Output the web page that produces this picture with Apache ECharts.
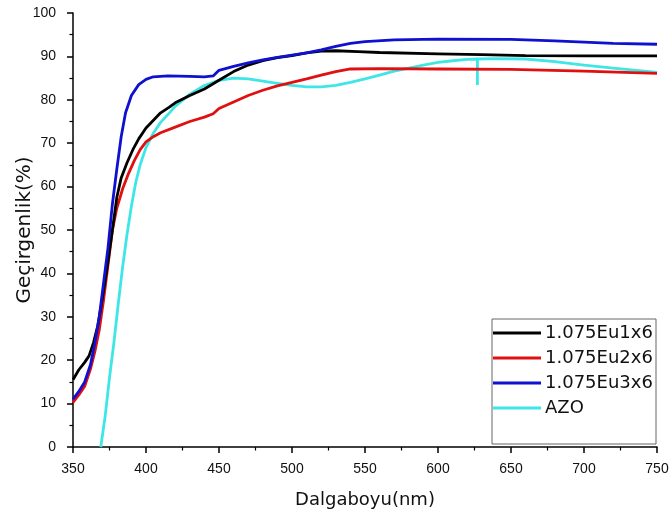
<!DOCTYPE html>
<html>
<head>
<meta charset="utf-8">
<script src="https://cdn.jsdelivr.net/npm/echarts@6/dist/echarts.min.js"></script>
<style>html,body{margin:0;padding:0;background:#fff}#c{width:672px;height:520px}</style>
</head>
<body>
<div id="c"></div>
<script>
const seriesNames = ['1.075Eu1x6', '1.075Eu2x6', '1.075Eu3x6', 'AZO'];
const seriesColors = ['#000000', '#e01010', '#1010d0', '#3ee6e6'];

const eu1X = [350,354,358,361,364,367,370,373,377,380,383,387,391,395,400,410,416,420,430,440,450,460,470,480,490,500,510,520,530,545,560,600,630,660,700,750];
const eu1Y = [15.5,17.8,19.5,21,24,28,34,40.5,50,57.5,62,65.5,68.5,71,73.5,77,78.3,79.3,81,82.5,84.5,86.5,88,89,89.7,90.2,90.8,91.2,91.3,91.1,90.9,90.6,90.4,90.2,90.1,90.1];

const eu2X = [350,354,358,362,365,368,371,374,377,380,384,388,392,396,400,405,410,420,430,440,446,450,460,470,480,490,500,510,520,530,540,560,600,650,700,750];
const eu2Y = [10.3,12,14,18,22,27,34,42,50,55,59.5,63,66,68.5,70.3,71.5,72.4,73.7,75,76,76.8,78,79.5,81,82.2,83.2,84,84.8,85.7,86.5,87.1,87.2,87.1,87,86.6,86.1];

const eu3X = [350,354,358,362,365,368,371,374,377,380,383,386,390,395,400,405,415,430,440,446,450,460,470,480,490,500,510,520,530,540,550,570,600,650,680,700,720,750];
const eu3Y = [11,12.8,15,19,24,30,38,46,56,64,71.5,77,81,83.5,84.7,85.3,85.5,85.4,85.3,85.5,86.8,87.7,88.5,89.2,89.8,90.3,90.8,91.5,92.3,93,93.4,93.8,94,93.9,93.6,93.3,93,92.8];

const azoX = [369,372,375,378,381,384,387,390,393,396,400,405,410,415,420,430,440,450,460,470,480,490,500,510,520,530,540,550,560,570,580,590,600,610,620,627,627,627,640,660,680,700,720,750];
const azoY = [0,7,16,24,33,41.5,49,55.5,61,65,69,72.3,74.8,76.6,78.5,81.3,83.3,84.5,85,84.8,84.3,83.8,83.3,83,83,83.3,84,84.8,85.7,86.6,87.3,88,88.6,89,89.3,89.4,83.4,89.4,89.5,89.4,88.8,88,87.3,86.3];

const xTicks = {min: 350, max: 750, interval: 50};
const yTicks = {min: 0, max: 100, interval: 10};

const xs = [eu1X, eu2X, eu3X, azoX];
const ys = [eu1Y, eu2Y, eu3Y, azoY];

const chart = echarts.init(document.getElementById('c'));
const font = 'Liberation Sans, Arial, sans-serif';
const wide = 'DejaVu Sans, sans-serif';
const axisCommon = {
  axisLine: {show: true, onZero: false, lineStyle: {color: '#000', width: 1.5}},
  axisTick: {show: true, inside: false, length: 6, lineStyle: {color: '#000', width: 1.5}},
  minorTick: {show: true, splitNumber: 2, length: 3.5, lineStyle: {color: '#000', width: 1.2}},
  splitLine: {show: false},
  nameMoveOverlap: false
};

chart.setOption({
  animation: false,
  backgroundColor: '#fff',
  grid: {left: 73, right: 15, top: 13, bottom: 73, containLabel: false, outerBoundsMode: 'none'},
  xAxis: Object.assign({
    type: 'value', min: xTicks.min, max: xTicks.max, interval: xTicks.interval,
    name: 'Dalgaboyu(nm)', nameLocation: 'middle', nameGap: 44,
    nameTextStyle: {color: '#111', fontSize: 18, fontFamily: wide},
    axisLabel: {color: '#111', fontSize: 14, fontFamily: font, margin: 15}
  }, axisCommon),
  yAxis: Object.assign({
    type: 'value', min: yTicks.min, max: yTicks.max, interval: yTicks.interval,
    name: 'Geçirgenlik(%)', nameLocation: 'middle', nameGap: 38,
    nameTextStyle: {color: '#111', fontSize: 20, fontFamily: wide},
    axisLabel: {color: '#111', fontSize: 14, fontFamily: font, margin: 17}
  }, axisCommon),
  legend: {
    orient: 'vertical', left: 492, top: 319,
    borderColor: '#666', borderWidth: 1,
    padding: [5, 2, 27, 1],
    itemWidth: 48, itemHeight: 14, itemGap: 7,
    textStyle: {color: '#111', fontSize: 18, lineHeight: 18, width: 109, overflow: 'none', fontFamily: wide, padding: [0, 0, 0, -1]},
    data: seriesNames.map((n, i) => ({name: n, icon: 'path://M0,5.5 L48,5.5 L48,8.5 L0,8.5 Z', itemStyle: {color: seriesColors[i]}}))
  },
  series: seriesNames.map((n, i) => ({
    name: n, type: 'line', showSymbol: false, symbol: 'none', smooth: false,
    lineStyle: {color: seriesColors[i], width: 2.8},
    itemStyle: {color: seriesColors[i]},
    z: [4, 3, 5, 2][i],
    data: xs[i].map((x, j) => [x, ys[i][j]])
  }))
});
</script>
</body>
</html>
